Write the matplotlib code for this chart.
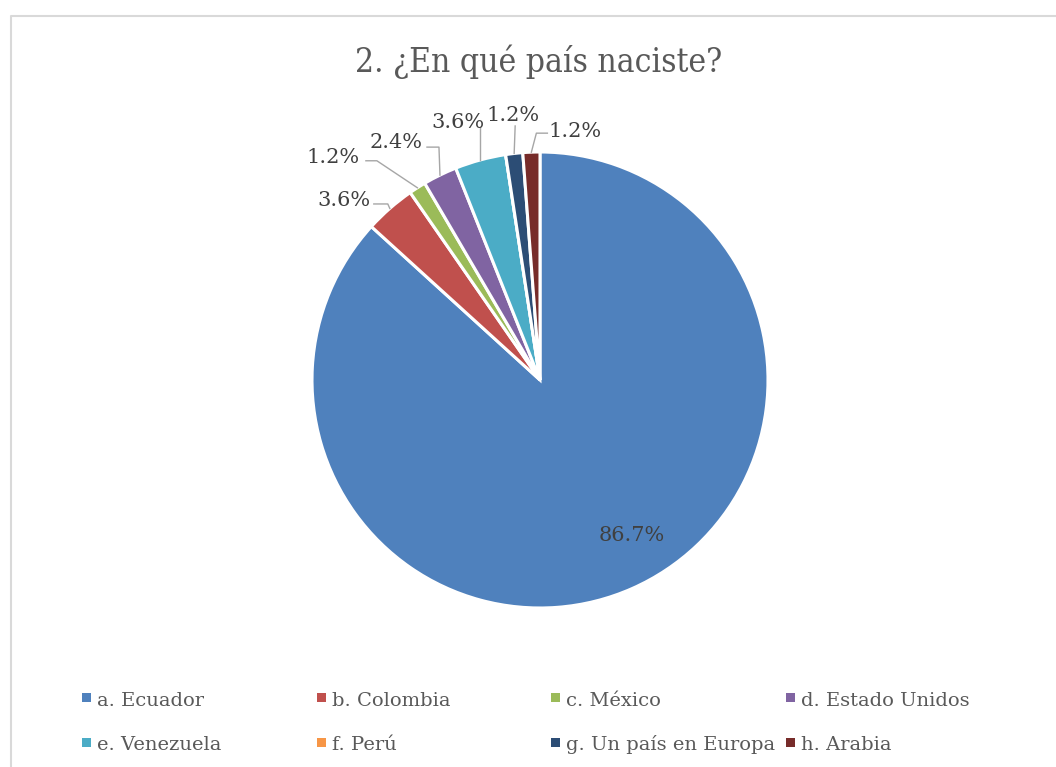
import matplotlib
matplotlib.use("Agg")
import matplotlib.pyplot as plt
import numpy as np
from matplotlib.patches import Rectangle
from matplotlib.lines import Line2D

# ---------------- data ----------------
title = "2. ¿En qué país naciste?"
categories = ["a. Ecuador", "b. Colombia", "c. México", "d. Estado Unidos",
              "e. Venezuela", "f. Perú", "g. Un país en Europa", "h. Arabia"]
counts = [72, 3, 1, 2, 3, 0, 1, 1]
colors = ["#4F81BD", "#C0504D", "#9BBB59", "#8064A2",
          "#4BACC6", "#F79646", "#2C4D75", "#772C2A"]

# ---------------- layout (pixels) ----------------
W, H = 1056, 767
CX, CY, R = 540, 380, 228
FONT = "DejaVu Serif"
TXT = "#595959"

fig = plt.figure(figsize=(W / 100, H / 100), dpi=100)
ax = fig.add_axes([0, 0, 1, 1])
ax.set_xlim(0, W)
ax.set_ylim(0, H)
ax.axis("off")


def py(y):
    return H - y


# chart border
ax.add_line(Line2D([11, 11, W + 5], [py(H + 5), py(16), py(16)],
                   color="#d9d9d9", lw=1.5))

wedges, _ = ax.pie(counts, colors=colors, startangle=90, counterclock=False,
                   center=(CX, py(CY)), radius=R,
                   wedgeprops=dict(edgecolor="white", linewidth=2.2))
ax.set_xlim(0, W)
ax.set_ylim(0, H)
ax.set_aspect("equal")

# label offsets relative to wedge edge midpoint (pixels, y down): text center x, baseline
text_off = {0: (-0.5, -48), 1: (-46, -2), 2: (-84, -24.5), 3: (-43.5, -27),
            4: (-22.5, -32), 6: (-1.5, -32), 7: (44, -15)}
# leader (start, elbow) offsets relative to edge point
leader = {1: ((-16, -4.5), (-2, -4.5)),
          2: ((-51.5, -27), (-40.5, -27)),
          3: ((-13, -28), (-1, -28)),
          4: ((0, -33), (0, -33)),
          6: ((1, -27.5), (1, -27.5)),
          7: ((16, -19), (5, -19))}

total = sum(counts)
for i, w in enumerate(wedges):
    if counts[i] == 0:
        continue
    mid = np.deg2rad((w.theta1 + w.theta2) / 2)
    ex = CX + R * np.cos(mid)
    ey = CY - R * np.sin(mid)
    pct = f"{100 * counts[i] / total:.1f}%"
    dx, dy = text_off[i]
    ax.text(ex + dx, py(ey + dy), pct, ha="center", va="baseline",
            fontsize=15, family=FONT, color="#404040")
    if i in leader:
        (sx, sy), (bx, by) = leader[i]
        ax.add_line(Line2D([ex + sx, ex + bx, ex], [py(ey + sy), py(ey + by), py(ey)],
                           color="#a6a6a6", lw=1.0))

# title
ax.text(539, py(72), title, ha="center", va="baseline", fontsize=24,
        family=FONT, fontstretch="condensed", color=TXT)

# legend (manual, fixed column width like the original)
col_x = [82, 317, 551, 786]
row_y = [697.5, 742]
for i, (lab, c) in enumerate(zip(categories, colors)):
    r, k = divmod(i, 4)
    x0, yc = col_x[k], row_y[r]
    ax.add_patch(Rectangle((x0, py(yc + 4.5)), 9, 9, facecolor=c, edgecolor="none"))
    ax.text(x0 + 15, py(yc + 8.5), lab, ha="left", va="baseline", fontsize=14,
            family=FONT, color=TXT)

fig.savefig("out.png", dpi=100, facecolor="white")
